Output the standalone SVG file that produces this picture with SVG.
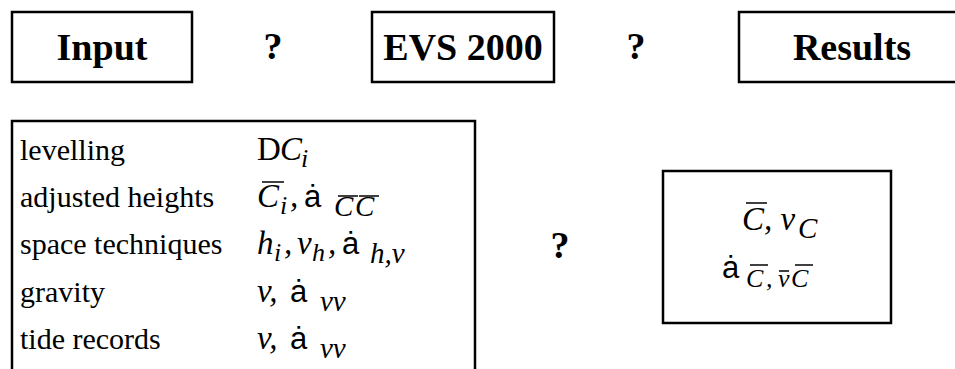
<svg xmlns="http://www.w3.org/2000/svg" width="955" height="369" viewBox="0 0 955 369">
<style>
.box{fill:#fff;stroke:#000;stroke-width:2.5}
.hd{font-family:"Liberation Serif",serif;font-weight:bold;font-size:38px;text-anchor:middle}
.lb{font-family:"Liberation Serif",serif;font-size:30px}
.m{font-family:"Liberation Serif",serif;font-style:italic;font-size:33px}
.up{font-family:"Liberation Serif",serif;font-size:33px}
.s{font-family:"Liberation Serif",serif;font-style:italic;font-size:26px}
.s2{font-family:"Liberation Serif",serif;font-style:italic;font-size:29px}
.a{font-family:"Liberation Sans",sans-serif;font-size:31px}
.bar{stroke:#000;stroke-width:1.5}
</style>
<rect width="955" height="369" fill="#fff"/>
<g id="input">
<rect class="box" x="12" y="12" width="180" height="70"/>
<text class="hd" x="102" y="60">Input</text>
</g>
<g id="evs">
<rect class="box" x="372" y="12" width="182" height="70"/>
<text class="hd" x="463" y="60">EVS 2000</text>
</g>
<g id="results">
<rect class="box" x="739" y="12" width="230" height="70"/>
<text class="hd" x="852" y="60">Results</text>
</g>
<g id="connectors">
<text class="hd" x="273" y="59">?</text>
<text class="hd" x="636" y="59">?</text>
<text class="hd" x="560" y="258">?</text>
</g>
<g id="inputs">
<rect class="box" x="12" y="121" width="463" height="260"/>
<text class="lb" x="20" y="160">levelling</text>
<text class="lb" x="20" y="207">adjusted heights</text>
<text class="lb" x="20" y="254">space techniques</text>
<text class="lb" x="20" y="302">gravity</text>
<text class="lb" x="20" y="349">tide records</text>
<text y="160"><tspan class="up" x="257">D</tspan><tspan class="m" x="280">C</tspan><tspan class="s" x="301" dy="7">i</tspan></text>
<text y="207"><tspan class="m" x="257">C</tspan><tspan class="s" x="280" dy="7">i</tspan><tspan class="m" x="290" dy="-7">,</tspan><tspan class="a" x="304">ȧ</tspan><tspan class="s2" x="334" dy="9">C</tspan><tspan class="s2" x="355">C</tspan></text>
<line class="bar" x1="262" y1="182" x2="284" y2="182"/>
<line class="bar" x1="338" y1="196" x2="358" y2="196"/>
<line class="bar" x1="359" y1="196" x2="379" y2="196"/>
<text y="254"><tspan class="m" x="257">h</tspan><tspan class="s" x="274" dy="7">i</tspan><tspan class="m" x="284" dy="-7">,</tspan><tspan class="m" x="297">v</tspan><tspan class="s" x="312" dy="7">h</tspan><tspan class="m" x="328" dy="-7">,</tspan><tspan class="a" x="342">ȧ</tspan><tspan class="s2" x="370" dy="9">h,v</tspan></text>
<text y="302"><tspan class="m" x="257">v,</tspan><tspan class="a" x="290">ȧ</tspan><tspan class="s2" x="320" dy="9">vv</tspan></text>
<text y="349"><tspan class="m" x="257">v,</tspan><tspan class="a" x="290">ȧ</tspan><tspan class="s2" x="320" dy="9">vv</tspan></text>
</g>
<g id="output">
<rect class="box" x="663" y="171" width="228" height="152"/>
<text y="230"><tspan class="m" x="742">C</tspan><tspan class="m" x="764">, v</tspan><tspan class="s2" x="798" dy="8">C</tspan></text>
<line class="bar" x1="746" y1="203" x2="767" y2="203"/>
<text y="278"><tspan class="a" x="722">ȧ</tspan><tspan class="s" x="746" font-size="28" dy="9">C</tspan><tspan class="s" x="766">,</tspan><tspan class="s" x="778" font-size="21">v</tspan><tspan class="s" x="791" font-size="28">C</tspan></text>
<line class="bar" x1="750" y1="265" x2="768" y2="265"/>
<line class="bar" x1="779" y1="271" x2="789" y2="271"/>
<line class="bar" x1="795" y1="265" x2="813" y2="265"/>
</g>
</svg>
